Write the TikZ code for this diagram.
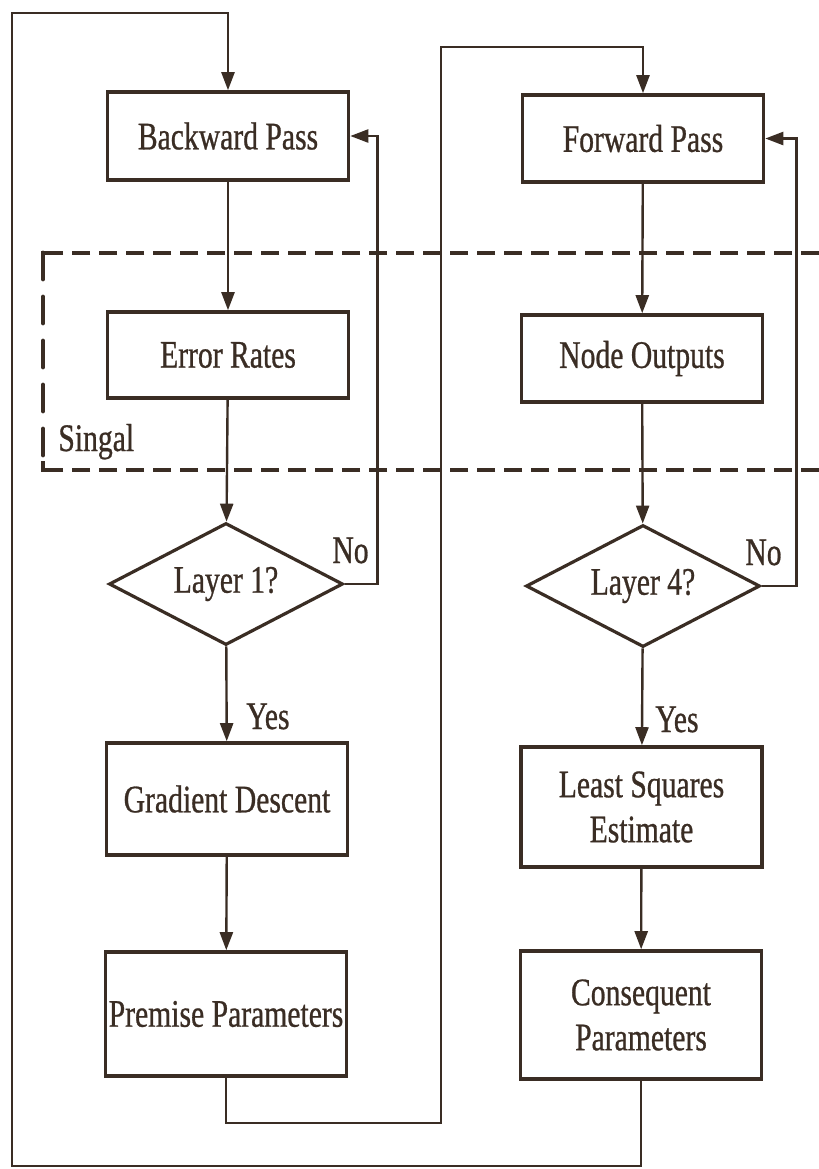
\documentclass[tikz,border=0pt]{standalone}
\usepackage{fontspec}
\setmainfont{Liberation Serif}[FakeStretch=0.76,FakeBold=0.7]
\usetikzlibrary{shapes.geometric,arrows.meta}
\definecolor{ink}{HTML}{3A2D24}
\begin{document}
\begin{tikzpicture}[x=0.5pt,y=-0.5pt,
  txt/.style={text=ink, font=\fontsize{19.5}{22.5}\selectfont},
  box/.style={txt, draw=ink, line width=1.8pt, rectangle, minimum width=120.5pt, inner sep=0pt, align=center},
  dec/.style={txt, draw=ink, line width=1.6pt, diamond, aspect=1.92, minimum width=117pt, minimum height=61pt, inner sep=0pt},
  conn/.style={draw=ink, line width=1.2pt},
  arr/.style={conn, -{Triangle[length=9pt,width=6.5pt]}},
  lbl/.style={txt, inner sep=0pt},
  sig/.style={draw=ink, line width=2.4pt}
]
\useasboundingbox (0,0) rectangle (819,1169);
\fill[white] (0,0) rectangle (819,1169);

% signal region
\draw[sig, dash pattern=on 9pt off 4.5pt] (819,253) -- (56,253);
\draw[sig, dash pattern=on 9pt off 4.5pt] (819,470) -- (56,470);
\draw[sig, dash pattern=on 13pt off 9pt, line cap=round] (43,253) -- (43,470);
\draw[sig] (56,253) -- (43,253) -- (43,262);
\draw[sig] (56,470) -- (43,470) -- (43,461);
\node[lbl, anchor=base west] (singal) at (58,451) {Singal};

% left column
\node[box, minimum height=44pt] (bp) at (228,136) {Backward Pass};
\node[box, minimum height=43pt] (er) at (228,355) {Error Rates};
\node[dec] (l1) at (226,584) {Layer 1?};
\node[box, minimum height=56pt] (gd) at (227,799) {Gradient Descent};
\node[box, minimum height=62pt] (pp) at (226,1014) {Premise Parameters};

% right column
\node[box, minimum height=43.5pt] (fp) at (643,138.5) {Forward Pass};
\node[box, minimum height=43.5pt] (no) at (642,358.5) {Node Outputs};
\node[dec] (l4) at (643,586) {Layer 4?};
\node[box, minimum height=60pt] (ls) at (641.5,807) {Least Squares\\Estimate};
\node[box, minimum height=64pt] (cp) at (641,1015) {Consequent\\Parameters};

% labels
\node[lbl, anchor=base west] (no1) at (332,563) {No};
\node[lbl, anchor=base west] (no4) at (745,565) {No};
\node[lbl, anchor=base west] (yes1) at (246,729) {Yes};
\node[lbl, anchor=base west] (yes4) at (655,732) {Yes};

% loop coordinates
\coordinate (c1) at (12,1166);
\coordinate (c2) at (12,13);
\coordinate (c3) at (441,1123);
\coordinate (c4) at (441,47);

% left connectors
\draw[arr] (bp) -- (er);
\draw[arr] (er) -- (l1);
\draw[arr] (l1) -- (gd);
\draw[arr] (gd) -- (pp);
\draw[arr] (l1.east) -- ++(33,0) |- (bp.east);

% right connectors
\draw[arr] (fp) -- (no);
\draw[arr] (no) -- (l4);
\draw[arr] (l4) -- (ls);
\draw[arr] (ls) -- (cp);
\draw[arr] (l4.east) -- ++(35,0) |- (fp.east);

% big loops
\draw[arr] (cp.south) |- (c1) -- (c2) -| (bp.north);
\draw[arr] (pp.south) |- (c3) -- (c4) -| (fp.north);
\end{tikzpicture}
\end{document}
